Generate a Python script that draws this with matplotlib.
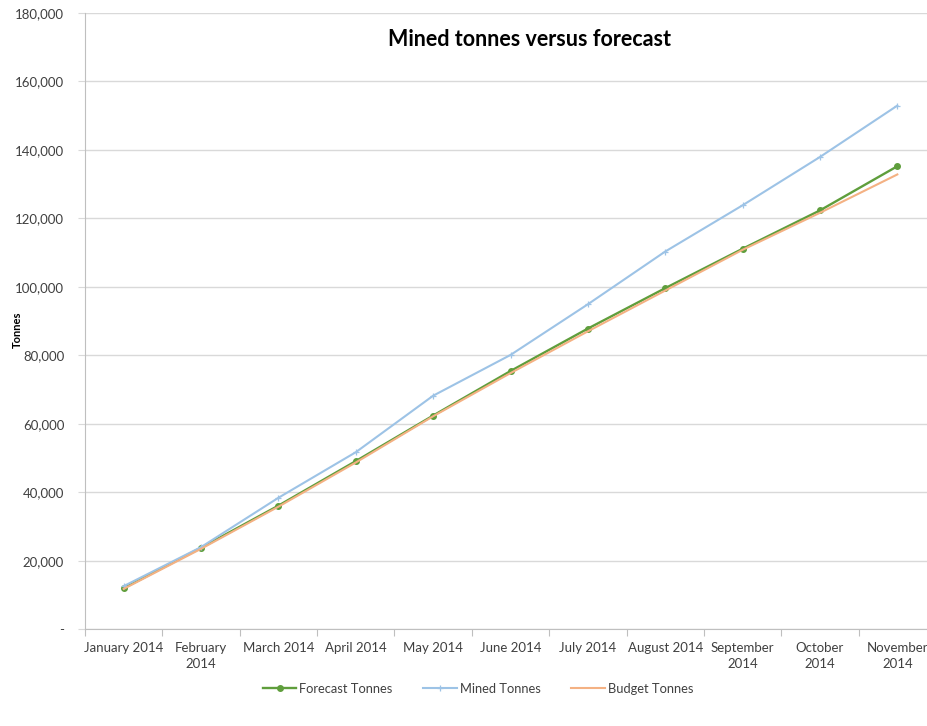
import matplotlib
matplotlib.use("Agg")
import matplotlib.pyplot as plt
from matplotlib.ticker import FuncFormatter
import numpy as np

plt.rcParams['font.family'] = ['Lato', 'DejaVu Sans']

months = ["January 2014", "February\n2014", "March 2014", "April 2014", "May 2014",
          "June 2014", "July 2014", "August 2014", "September\n2014", "October\n2014",
          "November\n2014"]
forecast_tonnes = [12000, 23800, 36100, 49100, 62400, 75400, 87800, 99600, 111100, 122300, 135200]
mined_tonnes = [12600, 24000, 38400, 51700, 68200, 80100, 94900, 110300, 123800, 137900, 152900]
budget_tonnes = [11800, 23500, 35800, 48700, 62200, 74800, 87000, 98900, 110800, 121600, 132800]
y_ticks = [0, 20000, 40000, 60000, 80000, 100000, 120000, 140000, 160000, 180000]

fig = plt.figure(figsize=(9.28, 7.26), dpi=100)
ax = fig.add_axes([85/928, (726-629.3)/726, (936-85)/928, (629.3-12.8)/726])

x = np.arange(len(months)) + 0.5
green = '#5F9E3C'
blue = '#9DC3E6'
orange = '#F4B183'

l1, = ax.plot(x, forecast_tonnes, color=green, lw=1.7, marker='o', ms=4, zorder=3,
              label='Forecast Tonnes')
l2, = ax.plot(x, mined_tonnes, color=blue, lw=1.5, marker='+', ms=5, mew=0.9, zorder=3,
              label='Mined Tonnes')
l3, = ax.plot(x, budget_tonnes, color=orange, lw=1.5, zorder=4, label='Budget Tonnes')

ax.set_xlim(0, len(months))
ax.set_ylim(0, 180000)
ax.set_yticks(y_ticks)
ax.yaxis.set_major_formatter(FuncFormatter(lambda v, p: '-' if v == 0 else f'{int(v):,}'))
ax.grid(axis='y', color='#D9D9D9', lw=1.0)
ax.set_axisbelow(True)

ax.set_xticks(np.arange(len(months) + 1))
ax.set_xticklabels([])
ax.set_xticks(x, minor=True)
ax.set_xticklabels(months, minor=True, fontsize=9.5, color='#404040', linespacing=1.4)
ax.tick_params(axis='x', which='minor', length=0, pad=9)
ax.tick_params(axis='x', which='major', length=5, color='#BFBFBF')
ax.tick_params(axis='y', length=5, color='#D9D9D9', labelsize=9.5, labelcolor='#404040', pad=10)

for s in ['top', 'right']:
    ax.spines[s].set_visible(False)
ax.spines['left'].set_color('#BFBFBF')
ax.spines['bottom'].set_color('#BFBFBF')

fig.text(17/928, 1 - 330/726, 'Tonnes', rotation=90, fontsize=8, fontweight='bold',
         ha='center', va='center', color='#000000')
fig.text(529/928, 1 - 40/726, 'Mined tonnes versus forecast', fontsize=15.5,
         fontweight='bold', ha='center', va='center', color='#000000')

fig.legend(handles=[l1, l2, l3], loc='center', bbox_to_anchor=(478/928, 1 - 689/726),
           ncol=3, frameon=False, fontsize=9.3, handlelength=2.6, columnspacing=2.4,
           handletextpad=0.2, labelcolor='#404040')

fig.savefig('out.png', dpi=100)
